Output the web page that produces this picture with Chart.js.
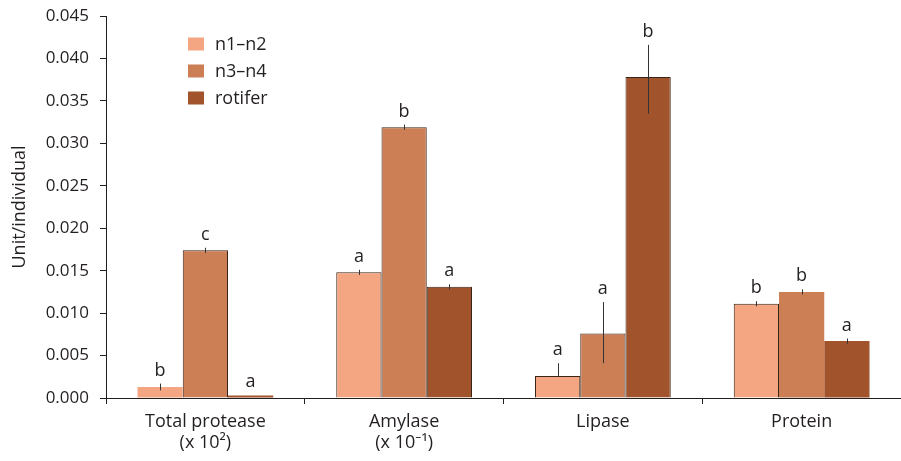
<!DOCTYPE html>
<html><head><meta charset="utf-8">
<script src="https://cdn.jsdelivr.net/npm/chart.js@4"></script>
<style>html,body{margin:0;padding:0;background:#fff}</style>
</head><body>
<canvas id="c" width="901" height="461" style="display:block;width:901px;height:461px"></canvas>
<script>
// ---- data ----
const categories = [["Total protease", "(x 10\u00B2)"], ["Amylase", "(x 10\u207B\u00B9)"], "Lipase", "Protein"];
const seriesNames = ["n1\u2013n2", "n3\u2013n4", "rotifer"];
const n1n2 = [0.0013, 0.0148, 0.0026, 0.0111];
const n3n4 = [0.0174, 0.0319, 0.0076, 0.0125];
const rotifer = [0.0003, 0.0131, 0.0378, 0.0067];
const n1n2ErrUp = [0.0004, 0.0003, 0.0015, 0.0003];
const n1n2ErrDown = [0.0004, 0.0003, 0.0, 0.0003];
const n3n4ErrUp = [0.0003, 0.0003, 0.0037, 0.0003];
const n3n4ErrDown = [0.0003, 0.0003, 0.0035, 0.0003];
const rotiferErrUp = [0.0, 0.0003, 0.0038, 0.0003];
const rotiferErrDown = [0.0, 0.0003, 0.0043, 0.0003];
const n1n2Letters = ["b", "a", "a", "b"];
const n3n4Letters = ["c", "b", "a", "b"];
const rotiferLetters = ["a", "a", "b", "a"];
const yMin = 0, yMax = 0.045, yStep = 0.005;
const yTitle = "Unit/individual";

// ---- styles ----
const FONT = "'Open Sans', 'Noto Sans', sans-serif";
const INK = "#231f20";
const colors = ["#f4a683", "#cc7f55", "#a1532b"];
const borderW = [[0, 1, 1, 1], [1, 1, 1, 0], [0, 1, 1, 0]];
const errUp = [n1n2ErrUp, n3n4ErrUp, rotiferErrUp];
const errDown = [n1n2ErrDown, n3n4ErrDown, rotiferErrDown];
const letters = [n1n2Letters, n3n4Letters, rotiferLetters];
const series = [n1n2, n3n4, rotifer];

const errorAndLetters = {
  id: 'errLetters',
  afterDatasetsDraw(chart) {
    const ctx = chart.ctx, ys = chart.scales.y;
    ctx.save();
    chart.data.datasets.forEach((ds, di) => {
      const meta = chart.getDatasetMeta(di);
      meta.data.forEach((el, i) => {
        const v = ds.data[i];
        const up = errUp[di][i], dn = errDown[di][i];
        const x = Math.round(el.x) + 0.5;
        const yTop = ys.getPixelForValue(v + up);
        const yBot = ys.getPixelForValue(v - dn);
        if (up > 0 || dn > 0) {
          ctx.strokeStyle = "#333";
          ctx.lineWidth = 1;
          ctx.beginPath();
          ctx.moveTo(x, yTop);
          ctx.lineTo(x, yBot);
          ctx.stroke();
        }
        ctx.fillStyle = INK;
        ctx.font = "18px " + FONT;
        ctx.textAlign = 'center';
        ctx.textBaseline = 'alphabetic';
        ctx.fillText(letters[di][i], el.x, Math.min(yTop, ys.getPixelForValue(v)) - 8);
      });
    });
    ctx.restore();
  }
};

const customLegend = {
  id: 'customLegend',
  afterDraw(chart) {
    const ctx = chart.ctx;
    ctx.save();
    const cy = [44, 71, 98];
    chart.data.datasets.forEach((ds, di) => {
      ctx.fillStyle = ds.backgroundColor;
      ctx.fillRect(188, cy[di] - 6.5, 16, 13);
      ctx.fillStyle = INK;
      ctx.font = "18px " + FONT;
      ctx.textAlign = 'left';
      ctx.textBaseline = 'middle';
      ctx.fillText(ds.label, 215, cy[di] + 1);
    });
    ctx.restore();
  }
};

new Chart(document.getElementById('c'), {
  type: 'bar',
  data: {
    labels: categories,
    datasets: series.map((d, i) => ({
      label: seriesNames[i],
      data: d,
      backgroundColor: colors[i],
      borderColor: "#3a2518",
      borderWidth: borderW[i],
      borderSkipped: 'start',
      barPercentage: 1.0,
      categoryPercentage: 0.683
    }))
  },
  options: {
    responsive: false,
    devicePixelRatio: 1,
    animation: false,
    layout: { padding: { top: 16, right: -3, bottom: 0, left: 0 } },
    plugins: { legend: { display: false }, tooltip: { enabled: false } },
    scales: {
      x: {
        offset: true,
        grid: { offset: true, drawOnChartArea: false, drawTicks: true, tickLength: 6, color: INK },
        border: { color: INK, width: 1 },
        ticks: { color: INK, font: { family: FONT, size: 18, lineHeight: 1.15 }, padding: 8, maxRotation: 0, autoSkip: false },
        afterFit(s) { s.height = 63; }
      },
      y: {
        min: yMin, max: yMax,
        grid: { drawOnChartArea: false, drawTicks: true, tickLength: 6, color: INK },
        border: { color: INK, width: 1 },
        ticks: { stepSize: yStep, color: INK, font: { family: FONT, size: 17 }, padding: 11,
                 callback: v => Number(v).toFixed(3) },
        title: { display: true, text: yTitle, color: INK, font: { family: FONT, size: 18 }, padding: { top: 9, bottom: 0 } },
        afterFit(s) { s.width = 106; s.paddingTop = 0; s.paddingBottom = 0; }
      }
    }
  },
  plugins: [errorAndLetters, customLegend]
});
</script>
</body></html>
